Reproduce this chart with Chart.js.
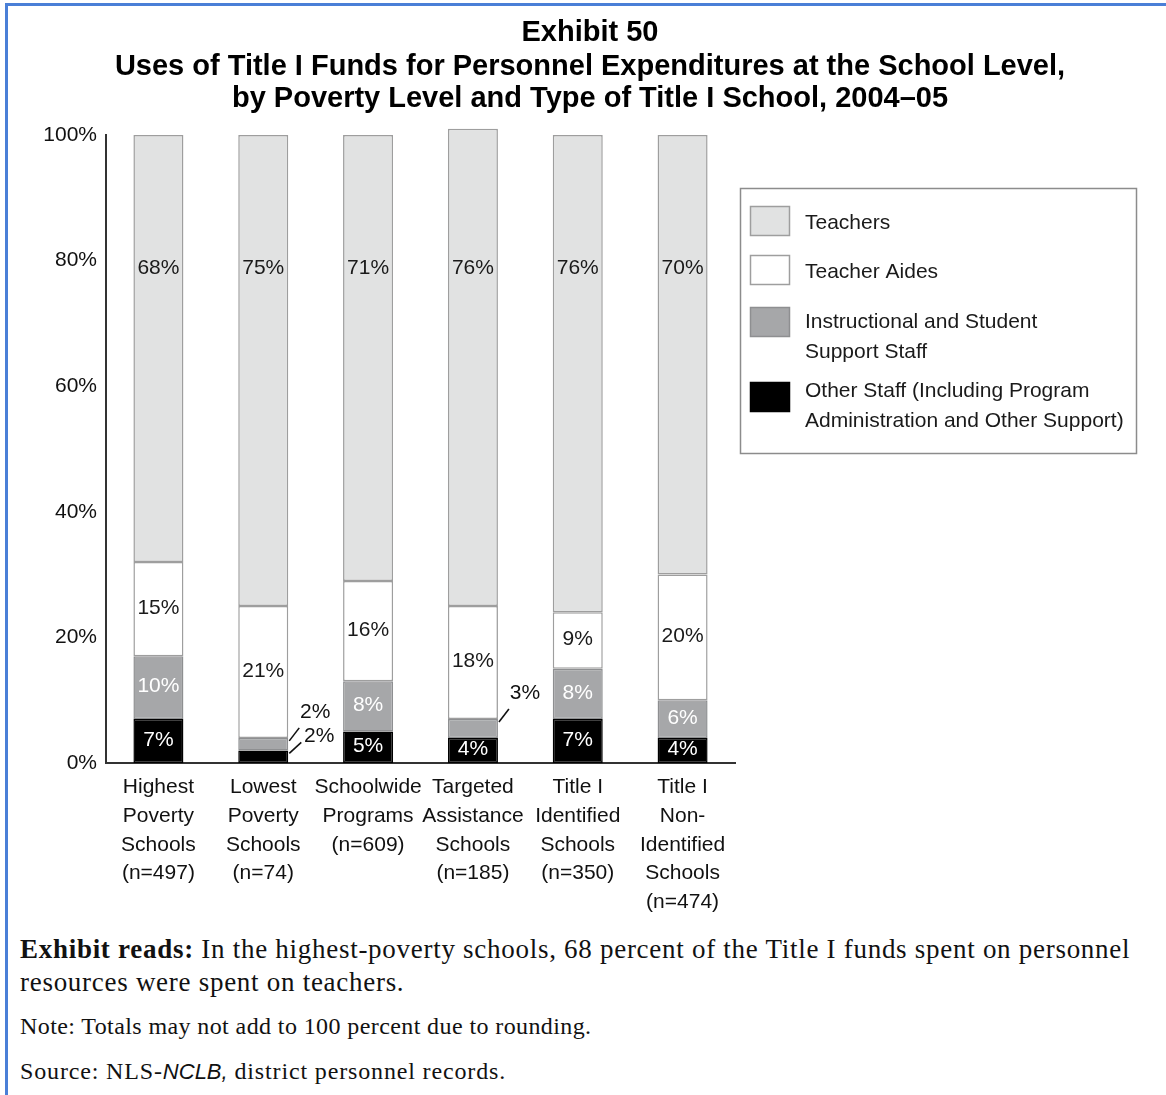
<!DOCTYPE html>
<html>
<head>
<meta charset="utf-8">
<script src="https://cdn.jsdelivr.net/npm/chart.js@4.4.0/dist/chart.umd.min.js"></script>
<style>
  body { margin: 0; background: #fff; width: 1166px; height: 1095px; overflow: hidden; position: relative; }
  #frame { position: absolute; left: 5px; top: 3px; width: 1161px; height: 1092px;
           border-top: 3px solid #4a7fd7; border-left: 3px solid #4a7fd7; box-sizing: border-box; }
  #chart { position: absolute; left: 8px; top: 6px; }
  .notes { position: absolute; left: 20px; margin: 0; font-family: 'Liberation Serif', 'Times New Roman', serif; color: #111; white-space: nowrap; }
  #reads { top: 933px; font-size: 27px; line-height: 33px; letter-spacing: 0.72px; }
  #note { top: 1012px; font-size: 24px; line-height: 28px; letter-spacing: 0.4px; }
  #source { top: 1057px; font-size: 24px; line-height: 28px; letter-spacing: 0.85px; }
  .sans { font-family: 'Liberation Sans', Arial, sans-serif; font-size: 22px; letter-spacing: 0; }
</style>
</head>
<body>
<div id="frame"></div>
<canvas id="chart" width="1158" height="912"></canvas>
<p class="notes" id="reads"><b>Exhibit reads:</b> In the highest-poverty schools, 68 percent of the Title I funds spent on personnel<br>resources were spent on teachers.</p>
<p class="notes" id="note">Note: Totals may not add to 100 percent due to rounding.</p>
<p class="notes" id="source">Source: NLS-<i class="sans">NCLB,</i> district personnel records.</p>
<script>
// --- Data ---
const categories = [
    ['Highest', 'Poverty', 'Schools', '(n=497)'],
    ['Lowest', 'Poverty', 'Schools', '(n=74)'],
    ['Schoolwide', 'Programs', '(n=609)'],
    ['Targeted', 'Assistance', 'Schools', '(n=185)'],
    ['Title I', 'Identified', 'Schools', '(n=350)'],
    ['Title I', 'Non-', 'Identified', 'Schools', '(n=474)']
];
const teachers = [68, 75, 71, 76, 76, 70];
const teacherAides = [15, 21, 16, 18, 9, 20];
const supportStaff = [10, 2, 8, 3, 8, 6];
const otherStaff = [7, 2, 5, 4, 7, 4];
const yTicks = [0, 20, 40, 60, 80, 100];
const seriesNames = [
    ['Teachers'],
    ['Teacher Aides'],
    ['Instructional and Student', 'Support Staff'],
    ['Other Staff (Including Program', 'Administration and Other Support)']
];
const titleLines = [
    'Exhibit 50',
    'Uses of Title I Funds for Personnel Expenditures at the School Level,',
    'by Poverty Level and Type of Title I School, 2004\u201305'
];

const FONT = '"Liberation Sans", Arial, sans-serif';

// --- Plugins ---

// percentage labels inside the segments, small ones get a leader line
const segmentLabels = {
    id: 'segmentLabels',
    afterDatasetsDraw(chart) {
        const ctx = chart.ctx;
        const yScale = chart.scales.y;
        ctx.save();
        ctx.font = '21px ' + FONT;
        ctx.textAlign = 'center';
        ctx.textBaseline = 'middle';
        chart.data.datasets.forEach((ds, di) => {
            const meta = chart.getDatasetMeta(di);
            meta.data.forEach((bar, i) => {
                const v = ds.data[i];
                const txt = v + '%';
                const top = Math.min(bar.y, bar.base);
                const bottom = Math.max(bar.y, bar.base);
                if (ds.labelLevel != null) {
                    ctx.fillStyle = ds.labelColor;
                    ctx.fillText(txt, bar.x, yScale.getPixelForValue(ds.labelLevel));
                } else if (v < 4) {
                    const c = ds.callout;
                    const x0 = bar.x + bar.width / 2 + 1;
                    const y0 = top + 3;
                    ctx.strokeStyle = '#111';
                    ctx.lineWidth = 1.6;
                    ctx.beginPath();
                    ctx.moveTo(x0, y0);
                    ctx.lineTo(x0 + c[0], y0 + c[1]);
                    ctx.stroke();
                    ctx.fillStyle = '#111';
                    ctx.fillText(txt, x0 + c[0] + c[2], y0 + c[1] + c[3]);
                } else {
                    ctx.fillStyle = ds.labelColor;
                    ctx.fillText(txt, bar.x, (top + bottom) / 2 - 1);
                }
            });
        });
        ctx.restore();
    }
};

// title and the boxed legend on the right
const frameItems = {
    id: 'frameItems',
    afterDraw(chart) {
        const ctx = chart.ctx;
        ctx.save();
        ctx.fillStyle = '#000';
        ctx.textAlign = 'center';
        ctx.textBaseline = 'middle';
        ctx.font = 'bold 29px ' + FONT;
        const titleY = [27, 61, 93];
        titleLines.forEach((t, i) => ctx.fillText(t, 582, titleY[i]));

        // legend box
        ctx.strokeStyle = '#8c8c8c';
        ctx.lineWidth = 1.5;
        ctx.strokeRect(732.5, 182.5, 396, 265);
        const rows = [
            { sw: 200, tx: 217 },
            { sw: 249, tx: 266 },
            { sw: 301, tx: 316 },
            { sw: 376, tx: 385 }
        ];
        const order = chart.data.datasets.slice().reverse();
        ctx.font = '21px ' + FONT;
        ctx.textAlign = 'left';
        order.forEach((ds, i) => {
            const r = rows[i];
            ctx.fillStyle = ds.backgroundColor;
            ctx.fillRect(742, r.sw, 40, 30);
            ctx.strokeStyle = ds.borderColor;
            ctx.lineWidth = 1.5;
            ctx.strokeRect(742.5, r.sw + 0.5, 39, 29);
            ctx.fillStyle = '#1a1a1a';
            seriesNames[i].forEach((line, li) => ctx.fillText(line, 797, r.tx + li * 30));
        });
        ctx.restore();
    }
};

// --- Chart ---
const barStyle = { borderWidth: 1.5, borderSkipped: false, clip: false };

new Chart(document.getElementById('chart').getContext('2d'), {
    type: 'bar',
    data: {
        labels: categories,
        datasets: [
            Object.assign({
                label: seriesNames[3].join(' '), data: otherStaff,
                backgroundColor: '#000000', borderColor: '#000000',
                labelColor: '#ffffff', callout: [12, -11, 18, -6]
            }, barStyle),
            Object.assign({
                label: seriesNames[2].join(' '), data: supportStaff,
                backgroundColor: '#a6a7a9', borderColor: '#8e8f91',
                labelColor: '#ffffff', callout: [10, -13, 16, -16]
            }, barStyle),
            Object.assign({
                label: seriesNames[1].join(' '), data: teacherAides,
                backgroundColor: '#ffffff', borderColor: '#9e9e9e',
                labelColor: '#1a1a1a'
            }, barStyle),
            Object.assign({
                label: seriesNames[0].join(' '), data: teachers,
                backgroundColor: '#e1e2e2', borderColor: '#9e9e9e',
                labelColor: '#1a1a1a', labelLevel: 78.8
            }, barStyle)
        ]
    },
    options: {
        responsive: false,
        animation: false,
        devicePixelRatio: 1,
        layout: { padding: { top: 129, right: 431, left: 0, bottom: 0 } },
        datasets: { bar: { categoryPercentage: 1, barPercentage: 0.477 } },
        plugins: {
            legend: { display: false },
            title: { display: false },
            tooltip: { enabled: false }
        },
        scales: {
            x: {
                stacked: true,
                grid: { display: false, drawTicks: false },
                border: { display: true, color: '#333', width: 2 },
                ticks: {
                    color: '#111', padding: 10, maxRotation: 0, autoSkip: false,
                    font: { family: FONT, size: 21, lineHeight: 1.367 }
                },
                afterFit(scale) { scale.height = 155; }
            },
            y: {
                stacked: true,
                min: 0,
                max: 100,
                grid: { display: false, drawTicks: false },
                border: { display: true, color: '#333', width: 2 },
                ticks: {
                    color: '#111', padding: 9,
                    font: { family: FONT, size: 21 },
                    callback: v => v + '%'
                },
                afterBuildTicks(scale) { scale.ticks = yTicks.map(v => ({ value: v })); },
                afterFit(scale) { scale.width = 98; }
            }
        }
    },
    plugins: [segmentLabels, frameItems]
});
</script>
</body>
</html>
